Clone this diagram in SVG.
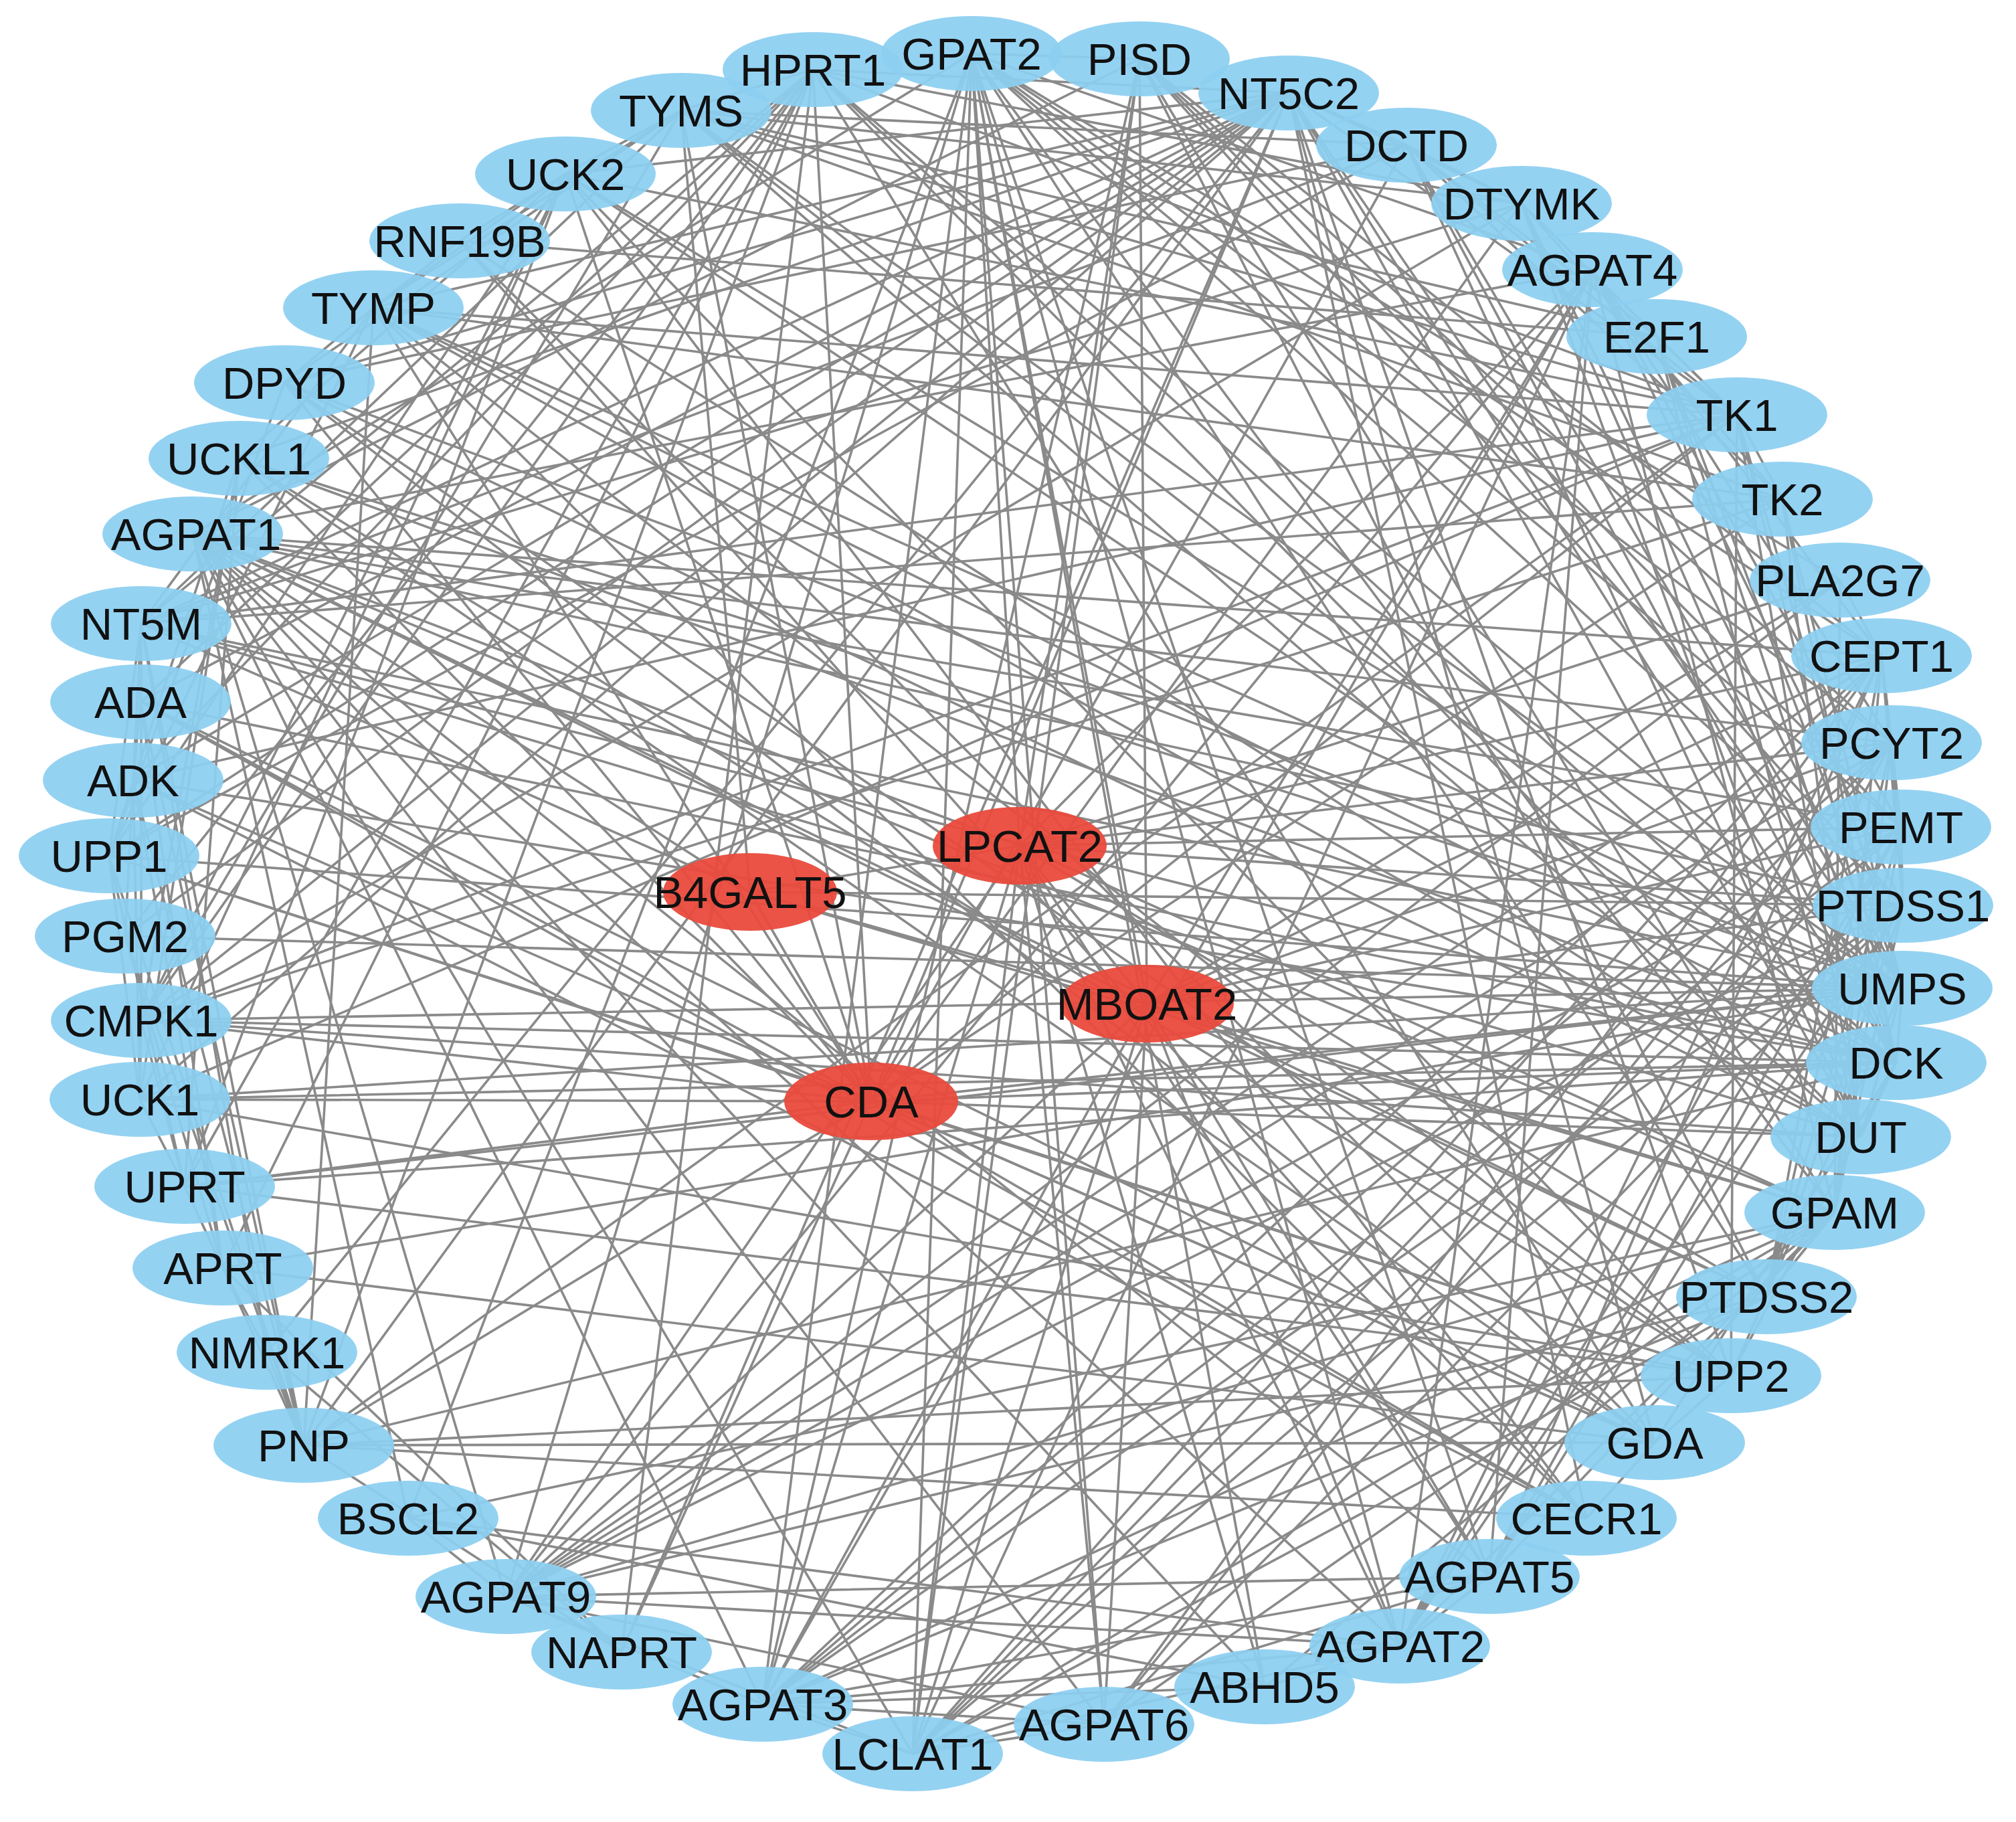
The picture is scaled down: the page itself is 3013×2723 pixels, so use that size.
<svg xmlns="http://www.w3.org/2000/svg" width="3013" height="2723" viewBox="0 0 3013 2723">
<style>
.e path{fill:none;stroke:#8a8a8a;stroke-width:3.6}
.n ellipse{fill:#8ccff1;fill-opacity:0.93}
.r ellipse{fill:#e94a3c;fill-opacity:0.95}
text{font-family:"Liberation Sans",Arial,sans-serif;font-size:67px;fill:#111111;text-anchor:middle}
</style>
<rect width="3013" height="2723" fill="#ffffff"/>
<g id="connectors" class="e">
<path id="e-HPRT1" d="M1215 104L333 1895M1215 104L454 2160M1215 104L210 1049M1215 104L199 1166M1215 104L1926 139M1215 104L1018 165M1215 104L2843 1477M1215 104L2834 1588M1215 104L2596 620M1215 104L211 932M1215 104L2473 2156M1215 104L929 2469M1215 104L276 1773M1215 104L187 1399M1215 104L2781 1699M1215 104L211 1525M1215 104L2274 304M1215 104L1302 1646"/>
<path id="e-TYMS" d="M1018 165L2781 1699M1018 165L2274 304M1018 165L2596 620M1018 165L2102 217M1018 165L2843 1477M1018 165L425 572M1018 165L558 460M1018 165L2476 503M1018 165L2664 746M1018 165L2834 1588M1018 165L1302 1646M1018 165L845 260M1018 165L211 1525M1018 165L211 932"/>
<path id="e-UCK2" d="M845 260L209 1643M845 260L357 685M845 260L2843 1477M845 260L1302 1646M845 260L163 1279M845 260L276 1773M845 260L211 1525M845 260L2834 1588M845 260L2596 620M845 260L2587 2056M845 260L1926 139M845 260L558 460M845 260L2371 2269"/>
<path id="e-RNF19B" d="M687 360L2476 503M687 360L558 460M687 360L845 260M687 360L2371 2269M687 360L2473 2156M687 360L2781 1699"/>
<path id="e-TYMP" d="M558 460L425 572M558 460L163 1279M558 460L2587 2056M558 460L2596 620M558 460L2664 746M558 460L454 2160M558 460L1302 1646M558 460L1926 139M558 460L211 932M558 460L2834 1588M558 460L2781 1699M558 460L2843 1477M558 460L2371 2269"/>
<path id="e-DPYD" d="M425 572L163 1279M425 572L2587 2056M425 572L1302 1646M425 572L2102 217M425 572L2843 1477M425 572L1926 139M425 572L2781 1699M425 572L2473 2156"/>
<path id="e-UCKL1" d="M357 685L209 1643M357 685L2843 1477M357 685L1302 1646M357 685L276 1773M357 685L163 1279M357 685L211 1525M357 685L2834 1588M357 685L2587 2056M357 685L1926 139M357 685L2473 2156"/>
<path id="e-NT5M" d="M211 932L1926 139M211 932L2834 1588M211 932L2664 746M211 932L2274 304M211 932L211 1525M211 932L163 1279M211 932L454 2160M211 932L210 1049M211 932L2102 217M211 932L2596 620M211 932L2843 1477M211 932L199 1166M211 932L2781 1699"/>
<path id="e-ADA" d="M210 1049L199 1166M210 1049L454 2160M210 1049L2473 2156M210 1049L1926 139M210 1049L2371 2269M210 1049L2834 1588M210 1049L333 1895M210 1049L1302 1646"/>
<path id="e-ADK" d="M199 1166L333 1895M199 1166L2834 1588M199 1166L454 2160M199 1166L1926 139M199 1166L2371 2269M199 1166L2473 2156M199 1166L2596 620M199 1166L209 1643"/>
<path id="e-UPP1" d="M163 1279L2587 2056M163 1279L1302 1646M163 1279L2843 1477M163 1279L454 2160M163 1279L209 1643M163 1279L276 1773M163 1279L1926 139M163 1279L2102 217"/>
<path id="e-PGM2" d="M187 1399L454 2160M187 1399L1926 139M187 1399L333 1895M187 1399L199 1166M187 1399L2843 1477"/>
<path id="e-CMPK1" d="M211 1525L2274 304M211 1525L2843 1477M211 1525L2834 1588M211 1525L2596 620M211 1525L209 1643M211 1525L2664 746M211 1525L1302 1646M211 1525L276 1773M211 1525L1926 139M211 1525L2781 1699"/>
<path id="e-UCK1" d="M209 1643L2843 1477M209 1643L2834 1588M209 1643L1302 1646M209 1643L276 1773M209 1643L2587 2056M209 1643L1926 139M209 1643L2596 620"/>
<path id="e-UPRT" d="M276 1773L2843 1477M276 1773L2587 2056M276 1773L1302 1646M276 1773L333 1895M276 1773L2834 1588"/>
<path id="e-APRT" d="M333 1895L454 2160M333 1895L929 2469M333 1895L399 2021M333 1895L2843 1477M333 1895L2473 2156"/>
<path id="e-NMRK1" d="M399 2021L929 2469M399 2021L454 2160M399 2021L1926 139M399 2021L211 932"/>
<path id="e-PNP" d="M454 2160L1926 139M454 2160L2473 2156M454 2160L2371 2269M454 2160L2587 2056M454 2160L929 2469M454 2160L2834 1588M454 2160L2596 620M454 2160L1302 1646"/>
<path id="e-NAPRT" d="M929 2469L1926 139M929 2469L1302 1646"/>
<path id="e-NT5C2" d="M1926 139L2102 217M1926 139L2834 1588M1926 139L2843 1477M1926 139L1302 1646M1926 139L2596 620M1926 139L2587 2056M1926 139L2274 304M1926 139L2781 1699M1926 139L2473 2156M1926 139L2371 2269"/>
<path id="e-DCTD" d="M2102 217L2781 1699M2102 217L2274 304M2102 217L2596 620M2102 217L1302 1646M2102 217L2834 1588M2102 217L2843 1477M2102 217L2664 746"/>
<path id="e-DTYMK" d="M2274 304L2596 620M2274 304L2664 746M2274 304L2781 1699M2274 304L2834 1588M2274 304L2476 503M2274 304L2843 1477M2274 304L1302 1646"/>
<path id="e-E2F1" d="M2476 503L2596 620M2476 503L2781 1699M2476 503L2834 1588M2476 503L2843 1477M2476 503L2102 217"/>
<path id="e-TK1" d="M2596 620L2664 746M2596 620L2834 1588M2596 620L2781 1699M2596 620L2843 1477M2596 620L1302 1646M2596 620L2587 2056"/>
<path id="e-TK2" d="M2664 746L2834 1588M2664 746L2781 1699M2664 746L1302 1646M2664 746L2843 1477"/>
<path id="e-UMPS" d="M2843 1477L2834 1588M2843 1477L2781 1699M2843 1477L1302 1646M2843 1477L2587 2056"/>
<path id="e-DCK" d="M2834 1588L1302 1646M2834 1588L2781 1699M2834 1588L2587 2056M2834 1588L2473 2156"/>
<path id="e-DUT" d="M2781 1699L1302 1646"/>
<path id="e-UPP2" d="M2587 2056L1302 1646M2587 2056L2473 2156"/>
<path id="e-GDA" d="M2473 2156L2371 2269M2473 2156L1302 1646"/>
<path id="e-CECR1" d="M2371 2269L1302 1646"/>
<path id="e-GPAT2" d="M1452 80L288 798M1452 80L2092 2460M1452 80L1140 2547M1452 80L2380 403M1452 80L2226 2356M1452 80L1650 2577M1452 80L756 2386M1452 80L2742 1812M1452 80L1364 2621M1452 80L1524 1264M1452 80L1714 1500M1452 80L1890 2521M1452 80L610 2269M1452 80L1703 88M1452 80L2844 1353M1452 80L2640 1938M1452 80L2812 980M1452 80L2827 1110M1452 80L2841 1236M1452 80L2750 867"/>
<path id="e-GPAM" d="M2742 1812L288 798M2742 1812L2092 2460M2742 1812L1140 2547M2742 1812L2380 403M2742 1812L2226 2356M2742 1812L1650 2577M2742 1812L756 2386M2742 1812L1364 2621M2742 1812L1524 1264M2742 1812L1714 1500M2742 1812L1890 2521M2742 1812L610 2269M2742 1812L1703 88M2742 1812L2844 1353M2742 1812L2640 1938M2742 1812L2812 980M2742 1812L2827 1110M2742 1812L2841 1236M2742 1812L2750 867"/>
<path id="e-AGPAT1" d="M288 798L2092 2460M288 798L1140 2547M288 798L2380 403M288 798L2226 2356M288 798L1650 2577M288 798L756 2386M288 798L1364 2621M288 798L1524 1264M288 798L1714 1500M288 798L1890 2521M288 798L610 2269M288 798L1703 88M288 798L2844 1353M288 798L2640 1938M288 798L2812 980M288 798L2827 1110M288 798L2841 1236"/>
<path id="e-AGPAT2" d="M2092 2460L1140 2547M2092 2460L2380 403M2092 2460L2226 2356M2092 2460L756 2386M2092 2460L1364 2621M2092 2460L1524 1264M2092 2460L1714 1500M2092 2460L1890 2521M2092 2460L610 2269M2092 2460L2844 1353M2092 2460L2812 980M2092 2460L2827 1110M2092 2460L2841 1236"/>
<path id="e-AGPAT3" d="M1140 2547L2380 403M1140 2547L2226 2356M1140 2547L1650 2577M1140 2547L756 2386M1140 2547L1364 2621M1140 2547L1524 1264M1140 2547L1714 1500M1140 2547L1890 2521M1140 2547L2844 1353M1140 2547L2640 1938M1140 2547L2812 980M1140 2547L2827 1110M1140 2547L2841 1236M1140 2547L1703 88"/>
<path id="e-AGPAT4" d="M2380 403L2226 2356M2380 403L756 2386M2380 403L1364 2621M2380 403L1524 1264M2380 403L1714 1500M2380 403L2812 980M2380 403L2827 1110M2380 403L2841 1236M2380 403L2844 1353"/>
<path id="e-AGPAT5" d="M2226 2356L756 2386M2226 2356L1364 2621M2226 2356L1524 1264M2226 2356L1714 1500M2226 2356L2844 1353M2226 2356L2812 980M2226 2356L2841 1236"/>
<path id="e-AGPAT6" d="M1650 2577L756 2386M1650 2577L1364 2621M1650 2577L1524 1264M1650 2577L1714 1500M1650 2577L2844 1353M1650 2577L2812 980M1650 2577L2827 1110"/>
<path id="e-AGPAT9" d="M756 2386L1364 2621M756 2386L1524 1264M756 2386L1714 1500M756 2386L2844 1353M756 2386L2640 1938M756 2386L2812 980M756 2386L2827 1110M756 2386L2841 1236M756 2386L2750 867"/>
<path id="e-LCLAT1" d="M1364 2621L1524 1264M1364 2621L1714 1500M1364 2621L2844 1353M1364 2621L2640 1938M1364 2621L2812 980M1364 2621L2827 1110M1364 2621L2841 1236M1364 2621L1703 88"/>
<path id="e-LPCAT2" d="M1524 1264L1714 1500M1524 1264L2750 867M1524 1264L2841 1236M1524 1264L2827 1110M1524 1264L2812 980M1524 1264L2844 1353M1524 1264L2640 1938M1524 1264L1703 88M1524 1264L1890 2521"/>
<path id="e-MBOAT2" d="M1714 1500L2750 867M1714 1500L2841 1236M1714 1500L2827 1110M1714 1500L2812 980M1714 1500L2844 1353M1714 1500L2640 1938M1714 1500L1703 88"/>
<path id="e-PTDSS1" d="M2844 1353L2640 1938M2844 1353L1703 88M2844 1353L2841 1236M2844 1353L2827 1110M2844 1353L2812 980"/>
<path id="e-PTDSS2" d="M2640 1938L1703 88M2640 1938L2841 1236M2640 1938L2827 1110M2640 1938L2812 980"/>
<path id="e-PISD" d="M1703 88L2841 1236M1703 88L2827 1110M1703 88L2812 980"/>
<path id="e-PEMT" d="M2841 1236L2827 1110M2841 1236L2812 980"/>
<path id="e-PCYT2" d="M2827 1110L2812 980"/>
<path id="e-PLA2G7" d="M2750 867L2812 980"/>
<path id="e-BSCL2" d="M610 2269L756 2386M610 2269L1890 2521"/>
<path id="e-B4GALT5" d="M1121 1333L1524 1264M1121 1333L1714 1500M1121 1333L1302 1646M1121 1333L288 798M1121 1333L2742 1812M1121 1333L2844 1353M1121 1333L211 932M1121 1333L1018 165"/>
</g>
<g id="nodes">
<g id="n-GPAT2" class="n"><ellipse cx="1452" cy="80" rx="135" ry="56"/><text x="1452" y="104">GPAT2</text></g>
<g id="n-PISD" class="n"><ellipse cx="1703" cy="88" rx="135" ry="56"/><text x="1703" y="112">PISD</text></g>
<g id="n-NT5C2" class="n"><ellipse cx="1926" cy="139" rx="135" ry="56"/><text x="1926" y="163">NT5C2</text></g>
<g id="n-DCTD" class="n"><ellipse cx="2102" cy="217" rx="135" ry="56"/><text x="2102" y="241">DCTD</text></g>
<g id="n-DTYMK" class="n"><ellipse cx="2274" cy="304" rx="135" ry="56"/><text x="2274" y="328">DTYMK</text></g>
<g id="n-AGPAT4" class="n"><ellipse cx="2380" cy="403" rx="135" ry="56"/><text x="2380" y="427">AGPAT4</text></g>
<g id="n-E2F1" class="n"><ellipse cx="2476" cy="503" rx="135" ry="56"/><text x="2476" y="527">E2F1</text></g>
<g id="n-TK1" class="n"><ellipse cx="2596" cy="620" rx="135" ry="56"/><text x="2596" y="644">TK1</text></g>
<g id="n-TK2" class="n"><ellipse cx="2664" cy="746" rx="135" ry="56"/><text x="2664" y="770">TK2</text></g>
<g id="n-PLA2G7" class="n"><ellipse cx="2750" cy="867" rx="135" ry="56"/><text x="2750" y="891">PLA2G7</text></g>
<g id="n-CEPT1" class="n"><ellipse cx="2812" cy="980" rx="135" ry="56"/><text x="2812" y="1004">CEPT1</text></g>
<g id="n-PCYT2" class="n"><ellipse cx="2827" cy="1110" rx="135" ry="56"/><text x="2827" y="1134">PCYT2</text></g>
<g id="n-PEMT" class="n"><ellipse cx="2841" cy="1236" rx="135" ry="56"/><text x="2841" y="1260">PEMT</text></g>
<g id="n-PTDSS1" class="n"><ellipse cx="2844" cy="1353" rx="135" ry="56"/><text x="2844" y="1377">PTDSS1</text></g>
<g id="n-UMPS" class="n"><ellipse cx="2843" cy="1477" rx="135" ry="56"/><text x="2843" y="1501">UMPS</text></g>
<g id="n-DCK" class="n"><ellipse cx="2834" cy="1588" rx="135" ry="56"/><text x="2834" y="1612">DCK</text></g>
<g id="n-DUT" class="n"><ellipse cx="2781" cy="1699" rx="135" ry="56"/><text x="2781" y="1723">DUT</text></g>
<g id="n-GPAM" class="n"><ellipse cx="2742" cy="1812" rx="135" ry="56"/><text x="2742" y="1836">GPAM</text></g>
<g id="n-PTDSS2" class="n"><ellipse cx="2640" cy="1938" rx="135" ry="56"/><text x="2640" y="1962">PTDSS2</text></g>
<g id="n-UPP2" class="n"><ellipse cx="2587" cy="2056" rx="135" ry="56"/><text x="2587" y="2080">UPP2</text></g>
<g id="n-GDA" class="n"><ellipse cx="2473" cy="2156" rx="135" ry="56"/><text x="2473" y="2180">GDA</text></g>
<g id="n-CECR1" class="n"><ellipse cx="2371" cy="2269" rx="135" ry="56"/><text x="2371" y="2293">CECR1</text></g>
<g id="n-AGPAT5" class="n"><ellipse cx="2226" cy="2356" rx="135" ry="56"/><text x="2226" y="2380">AGPAT5</text></g>
<g id="n-AGPAT2" class="n"><ellipse cx="2092" cy="2460" rx="135" ry="56"/><text x="2092" y="2484">AGPAT2</text></g>
<g id="n-ABHD5" class="n"><ellipse cx="1890" cy="2521" rx="135" ry="56"/><text x="1890" y="2545">ABHD5</text></g>
<g id="n-AGPAT6" class="n"><ellipse cx="1650" cy="2577" rx="135" ry="56"/><text x="1650" y="2601">AGPAT6</text></g>
<g id="n-LCLAT1" class="n"><ellipse cx="1364" cy="2621" rx="135" ry="56"/><text x="1364" y="2645">LCLAT1</text></g>
<g id="n-AGPAT3" class="n"><ellipse cx="1140" cy="2547" rx="135" ry="56"/><text x="1140" y="2571">AGPAT3</text></g>
<g id="n-NAPRT" class="n"><ellipse cx="929" cy="2469" rx="135" ry="56"/><text x="929" y="2493">NAPRT</text></g>
<g id="n-AGPAT9" class="n"><ellipse cx="756" cy="2386" rx="135" ry="56"/><text x="756" y="2410">AGPAT9</text></g>
<g id="n-BSCL2" class="n"><ellipse cx="610" cy="2269" rx="135" ry="56"/><text x="610" y="2293">BSCL2</text></g>
<g id="n-PNP" class="n"><ellipse cx="454" cy="2160" rx="135" ry="56"/><text x="454" y="2184">PNP</text></g>
<g id="n-NMRK1" class="n"><ellipse cx="399" cy="2021" rx="135" ry="56"/><text x="399" y="2045">NMRK1</text></g>
<g id="n-APRT" class="n"><ellipse cx="333" cy="1895" rx="135" ry="56"/><text x="333" y="1919">APRT</text></g>
<g id="n-UPRT" class="n"><ellipse cx="276" cy="1773" rx="135" ry="56"/><text x="276" y="1797">UPRT</text></g>
<g id="n-UCK1" class="n"><ellipse cx="209" cy="1643" rx="135" ry="56"/><text x="209" y="1667">UCK1</text></g>
<g id="n-CMPK1" class="n"><ellipse cx="211" cy="1525" rx="135" ry="56"/><text x="211" y="1549">CMPK1</text></g>
<g id="n-PGM2" class="n"><ellipse cx="187" cy="1399" rx="135" ry="56"/><text x="187" y="1423">PGM2</text></g>
<g id="n-UPP1" class="n"><ellipse cx="163" cy="1279" rx="135" ry="56"/><text x="163" y="1303">UPP1</text></g>
<g id="n-ADK" class="n"><ellipse cx="199" cy="1166" rx="135" ry="56"/><text x="199" y="1190">ADK</text></g>
<g id="n-ADA" class="n"><ellipse cx="210" cy="1049" rx="135" ry="56"/><text x="210" y="1073">ADA</text></g>
<g id="n-NT5M" class="n"><ellipse cx="211" cy="932" rx="135" ry="56"/><text x="211" y="956">NT5M</text></g>
<g id="n-AGPAT1" class="n"><ellipse cx="288" cy="798" rx="135" ry="56"/><text x="293" y="822">AGPAT1</text></g>
<g id="n-UCKL1" class="n"><ellipse cx="357" cy="685" rx="135" ry="56"/><text x="357" y="709">UCKL1</text></g>
<g id="n-DPYD" class="n"><ellipse cx="425" cy="572" rx="135" ry="56"/><text x="425" y="596">DPYD</text></g>
<g id="n-TYMP" class="n"><ellipse cx="558" cy="460" rx="135" ry="56"/><text x="558" y="484">TYMP</text></g>
<g id="n-RNF19B" class="n"><ellipse cx="687" cy="360" rx="135" ry="56"/><text x="687" y="384">RNF19B</text></g>
<g id="n-UCK2" class="n"><ellipse cx="845" cy="260" rx="135" ry="56"/><text x="845" y="284">UCK2</text></g>
<g id="n-TYMS" class="n"><ellipse cx="1018" cy="165" rx="135" ry="56"/><text x="1018" y="189">TYMS</text></g>
<g id="n-HPRT1" class="n"><ellipse cx="1215" cy="104" rx="135" ry="56"/><text x="1215" y="128">HPRT1</text></g>
<g id="n-LPCAT2" class="r"><ellipse cx="1524" cy="1264" rx="130" ry="58"/><text x="1524" y="1288">LPCAT2</text></g>
<g id="n-B4GALT5" class="r"><ellipse cx="1121" cy="1333" rx="130" ry="58"/><text x="1121" y="1357">B4GALT5</text></g>
<g id="n-MBOAT2" class="r"><ellipse cx="1714" cy="1500" rx="130" ry="58"/><text x="1714" y="1524">MBOAT2</text></g>
<g id="n-CDA" class="r"><ellipse cx="1302" cy="1646" rx="130" ry="58"/><text x="1302" y="1670">CDA</text></g>
</g>
</svg>
